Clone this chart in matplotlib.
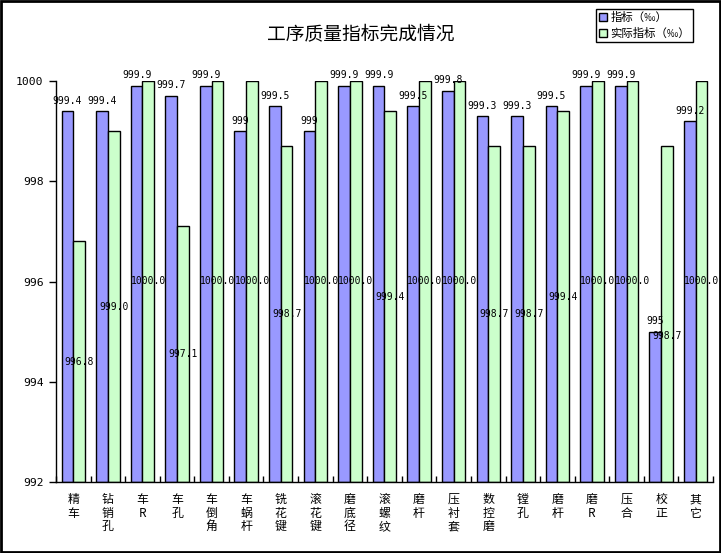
import matplotlib
matplotlib.use("Agg")
import matplotlib.pyplot as plt
from matplotlib.patches import Patch, Rectangle

plt.rcParams['font.family'] = ['Noto Sans CJK SC', 'DejaVu Sans']

categories = ["精车", "钻销孔", "车R", "车孔", "车倒角", "车蜗杆", "铣花键", "滚花键",
              "磨底径", "滚螺纹", "磨杆", "压衬套", "数控磨", "镗孔", "磨杆", "磨R",
              "压合", "校正", "其它"]
target = [999.4, 999.4, 999.9, 999.7, 999.9, 999, 999.5, 999, 999.9, 999.9,
          999.5, 999.8, 999.3, 999.3, 999.5, 999.9, 999.9, 995, 999.2]
actual = [996.8, 999.0, 1000.0, 997.1, 1000.0, 1000.0, 998.7, 1000.0, 1000.0, 999.4,
          1000.0, 1000.0, 998.7, 998.7, 999.4, 1000.0, 1000.0, 998.7, 1000.0]
target_labels = ["999.4", "999.4", "999.9", "999.7", "999.9", "999", "999.5", "999",
                 "999.9", "999.9", "999.5", "999.8", "999.3", "999.3", "999.5",
                 "999.9", "999.9", "995", "999.2"]
yticks = [992, 994, 996, 998, 1000]

blue = "#9999FF"
green = "#CCFFCC"
num_font = ['DejaVu Sans Mono', 'Noto Sans CJK SC']

fig = plt.figure(figsize=(7.21, 5.53), dpi=100)
ax = fig.add_axes([56 / 721, 1 - 482 / 553, (713 - 56) / 721, (482 - 81) / 553])

x = list(range(len(categories)))
w = 0.338
base = 992
ax.bar([i - w / 2 for i in x], [t - base for t in target], w, bottom=base,
       color=blue, edgecolor="black", linewidth=1, label="指标（‰）")
ax.bar([i + w / 2 for i in x], [a - base for a in actual], w, bottom=base,
       color=green, edgecolor="black", linewidth=1, label="实际指标（‰）")

for i in x:
    ax.annotate(target_labels[i], (i - w / 2, target[i]), xytext=(0, 4),
                textcoords="offset points", ha="center", va="bottom",
                fontsize=7, family=num_font, clip_on=False)
    # the label of 校正 sits lower in the original so it clears the 995 label
    dy = -16 if i == 17 else 0
    ax.annotate("%.1f" % actual[i], (i + w / 2, (actual[i] + base) / 2),
                xytext=(0, dy), textcoords="offset points", ha="center",
                va="center", fontsize=7, family=num_font)

ax.set_xlim(-0.5, len(categories) - 0.5)
ax.set_ylim(992, 1000)
ax.set_yticks(yticks)
ax.set_yticklabels([str(v) for v in yticks], family=num_font, fontsize=8.2)
ax.tick_params(axis="y", direction="out", length=5, width=1, pad=4)

ax.set_xticks([i - 0.5 for i in range(len(categories) + 1)], minor=True)
ax.set_xticks(x)
ax.set_xticklabels(["\n".join(c) for c in categories], fontsize=8.6, linespacing=1.05)
ax.tick_params(axis="x", which="major", length=0, pad=8)
ax.tick_params(axis="x", which="minor", direction="in", length=4, width=1)

for s in ["top", "right"]:
    ax.spines[s].set_visible(False)
for s in ["left", "bottom"]:
    ax.spines[s].set_linewidth(1)

fig.text(0.5, 1 - 35 / 553, "工序质量指标完成情况", ha="center", va="center", fontsize=13.5)

handles = [Patch(facecolor=blue, edgecolor="black", linewidth=1),
           Patch(facecolor=green, edgecolor="black", linewidth=1)]
leg = fig.legend(handles, ["指标（‰）", "实际指标（‰）"], loc="upper left",
                 bbox_to_anchor=(596 / 721, 1 - 9 / 553), fontsize=8.2,
                 fancybox=False, framealpha=1, edgecolor="black",
                 handlelength=0.7, handleheight=0.7, handletextpad=0.3,
                 borderpad=0.25, labelspacing=0.45, borderaxespad=0)
leg.get_frame().set_linewidth(1)

fig.patches.append(Rectangle((0.001, 0.001), 0.997, 0.997, transform=fig.transFigure,
                             fill=False, edgecolor="black", linewidth=2))

fig.savefig("out.png", dpi=100)
